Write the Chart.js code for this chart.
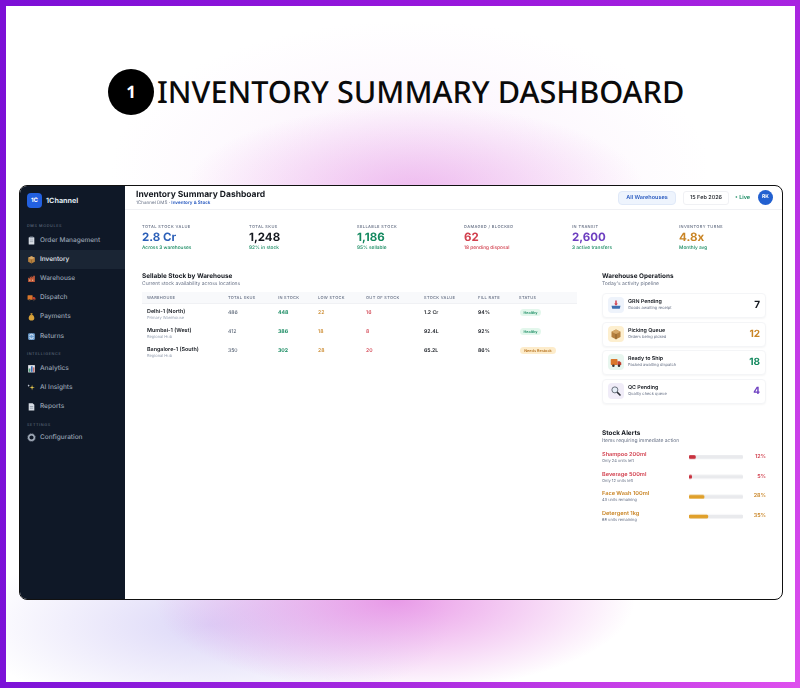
<!DOCTYPE html>
<html>
<head>
<meta charset="utf-8">
<title>Inventory Summary Dashboard</title>
<script src="https://cdn.jsdelivr.net/npm/chart.js@4"></script>
<style>
* { box-sizing: border-box; margin: 0; padding: 0; }
html, body { width: 800px; height: 688px; overflow: hidden; background: #fff; }
body { font-family: Inter, "Noto Sans", sans-serif; color: #14181f; position: relative; text-rendering: geometricPrecision; }

#fondo {
    position: absolute; left: 0; top: 0; width: 800px; height: 688px;
    background:
        radial-gradient(ellipse 230px 85px at 415px 190px, rgba(226,135,226,.5), rgba(226,135,226,0) 100%),
        radial-gradient(ellipse 300px 150px at 410px 170px, rgba(240,205,245,.3), rgba(240,205,245,0) 100%),
        radial-gradient(ellipse 240px 92px at 395px 600px, rgba(228,130,226,.8), rgba(228,130,226,0) 100%),
        radial-gradient(ellipse 240px 90px at 210px 625px, rgba(185,175,240,.5), rgba(185,175,240,0) 100%),
        #fff;
}
.marco { position: absolute; }
#m1 { left: 0; top: 0; width: 800px; height: 6px; background: linear-gradient(90deg, #7c0fd6, #9a18dc 60%, #a824e0); }
#m2 { left: 0; top: 682px; width: 800px; height: 6px; background: linear-gradient(90deg, #7c12d8, #a82ae0 50%, #de50ee); }
#m3 { left: 0; top: 0; width: 6px; height: 688px; background: linear-gradient(180deg, #7c0fd6, #7c12d8); }
#m4 { left: 795px; top: 0; width: 5px; height: 688px; background: linear-gradient(180deg, #a824e0, #de50ee); }

.titulo { position: absolute; left: 157px; top: 68px; font: 500 30.6px/46px "Noto Sans", sans-serif; color: #0a0a0a; white-space: nowrap; }
.numero { position: absolute; left: 108px; top: 69px; width: 46px; height: 46px; border-radius: 50%; background: #000; color: #fff; font: 700 17px/46px "Noto Sans", sans-serif; text-align: center; }

#tarjeta { position: absolute; left: 19px; top: 185px; width: 764px; height: 415px; background: #fff; border: 1px solid #111; border-radius: 8px; overflow: hidden; }
#contenido { position: absolute; left: 0; top: 0; width: 762px; height: 413px; filter: blur(.3px); }
#lateral { position: absolute; left: 0; top: 0; width: 105px; height: 100%; background: #0f1827; }
.logo { position: absolute; left: 7px; top: 7px; width: 15px; height: 15px; border-radius: 4px; background: #2260e0; color: #fff; font: 700 6px/15px Inter; text-align: center; }
.marca { position: absolute; left: 26px; top: 9px; font: 700 7.2px/11px Inter; color: #dfe5ee; }
.seccion { position: absolute; left: 7px; font: 500 3.8px/6px Inter; letter-spacing: .6px; color: #5e6a7c; }
.item { position: absolute; left: 0; width: 105px; height: 19px; font: 500 6.5px/19px Inter; color: #98a3b3; padding-left: 20px; white-space: nowrap; }
.item.activo { background: #1a2534; color: #e6eaf1; }
.item svg { position: absolute; left: 7px; top: 5px; width: 9px; height: 9px; }
.abs { position: absolute; white-space: nowrap; }
.icono svg { display: block; width: 100%; height: 100%; }
#grafico { position: absolute; left: 669px; top: 261px; width: 54px; height: 78.5px; }
</style>
</head>
<body>
<div id="fondo"></div>
<div class="marco" id="m1"></div><div class="marco" id="m2"></div><div class="marco" id="m3"></div><div class="marco" id="m4"></div>
<div class="numero">1</div>
<div class="titulo">INVENTORY SUMMARY DASHBOARD</div>
<div id="tarjeta">
    <div id="contenido">
        <div id="lateral"></div>
        <div id="grafico"><canvas id="alertas"></canvas></div>
    </div>
</div>

<script>
// Datos
const modulos = ['Order Management', 'Inventory', 'Warehouse', 'Dispatch', 'Payments', 'Returns'];
const inteligencia = ['Analytics', 'AI Insights', 'Reports'];
const ajustes = ['Configuration'];

const kpiTitulos = ['TOTAL STOCK VALUE', 'TOTAL SKUS', 'SELLABLE STOCK', 'DAMAGED / BLOCKED', 'IN TRANSIT', 'INVENTORY TURNS'];
const kpiValores = ['2.8 Cr', '1,248', '1,186', '62', '2,600', '4.8x'];
const kpiNotas = ['Across 3 warehouses', '92% in stock', '95% sellable', '18 pending disposal', '3 active transfers', 'Monthly avg'];
const kpiColores = ['#2b5fb8', '#14181f', '#14895f', '#d2414f', '#6d3fc0', '#c98424'];
const kpiColoresNota = ['#14895f', '#14895f', '#14895f', '#d2414f', '#14895f', '#14895f'];

const columnas = ['WAREHOUSE', 'TOTAL SKUS', 'IN STOCK', 'LOW STOCK', 'OUT OF STOCK', 'STOCK VALUE', 'FILL RATE', 'STATUS'];
const almacenes = ['Delhi-1 (North)', 'Mumbai-1 (West)', 'Bangalore-1 (South)'];
const tiposAlmacen = ['Primary Warehouse', 'Regional Hub', 'Regional Hub'];
const totalSkus = [486, 412, 350];
const enStock = [448, 386, 302];
const stockBajo = [22, 18, 28];
const sinStock = [16, 8, 20];
const valorStock = ['1.2 Cr', '92.4L', '65.2L'];
const tasaLlenado = ['94%', '92%', '86%'];
const estados = ['Healthy', 'Healthy', 'Needs Restock'];

const operaciones = ['GRN Pending', 'Picking Queue', 'Ready to Ship', 'QC Pending'];
const operacionesNotas = ['Goods awaiting receipt', 'Orders being picked', 'Packed awaiting dispatch', 'Quality check queue'];
const operacionesValores = [7, 12, 18, 4];
const operacionesColores = ['#14181f', '#c98424', '#14895f', '#6d3fc0'];
const operacionesFondos = ['#eef3fb', '#fdefcf', '#e8f6ef', '#f0ecf8'];

const productos = ['Shampoo 200ml', 'Beverage 500ml', 'Face Wash 100ml', 'Detergent 1kg'];
const productosNotas = ['Only 24 units left', 'Only 12 units left', '43 units remaining', '68 units remaining'];
const porcentajes = [12, 5, 28, 35];
const pista = [100, 100, 100, 100];
const coloresAlerta = ['#c8323f', '#c8323f', '#e0a02a', '#e0a02a'];
const coloresTexto = ['#d2414f', '#d2414f', '#c98424', '#c98424'];

// Iconos pequeños en lugar de emoji
const iconos = {
    clip: '<rect x="3" y="2" width="10" height="13" rx="1" fill="#d8dde5"/><rect x="5" y="1" width="6" height="3" fill="#8f99a8"/><path d="M5 7h6M5 10h6" stroke="#7d8796"/>',
    caja: '<path d="M2 5l6-3 6 3v7l-6 3-6-3z" fill="#b5803f"/><path d="M2 5l6 3 6-3-6-3z" fill="#d6a868"/><path d="M8 8v7" stroke="#7e5526"/>',
    fabrica: '<path d="M2 14V6l3 2V4l3 3V3l3 3V3h3v11z" fill="#c0583a"/><rect x="4" y="10" width="2" height="2" fill="#f0cf9a"/><rect x="9" y="10" width="2" height="2" fill="#f0cf9a"/>',
    camion: '<rect x="1" y="4" width="9" height="8" rx="1" fill="#d9772b"/><path d="M10 7h3l2 2v3h-5z" fill="#c2402e"/><circle cx="4.5" cy="13" r="1.7" fill="#333"/><circle cx="12" cy="13" r="1.7" fill="#333"/>',
    dinero: '<path d="M6 2h4l-1 3c3 1 4 4 4 6 0 3-2 4-5 4s-5-1-5-4c0-2 1-5 4-6z" fill="#d8a23a"/><path d="M6.500 5h3" stroke="#8f6818"/>',
    flechas: '<rect x="2" y="2" width="12" height="12" rx="2" fill="#6f9fd0"/><path d="M5 7a3 3 0 0 1 6 0M11 9a3 3 0 0 1-6 0" stroke="#fff" fill="none" stroke-width="1.300"/>',
    barras: '<rect x="2" y="2" width="12" height="13" fill="#e6e9ee"/><rect x="3" y="8" width="3" height="6" fill="#4f9a78"/><rect x="7" y="4" width="3" height="10" fill="#3f6fb8"/><rect x="11" y="6" width="2" height="8" fill="#c0504a"/>',
    chispa: '<path d="M9 3l1 4 4 1-4 1-1 4-1-4-4-1 4-1z" fill="#e8c84e"/><path d="M3 2l.6 1.800L5 4.500l-1.400.7L3 7l-.6-1.800L1 4.500l1.400-.7z" fill="#dfe5ee"/>',
    hoja: '<path d="M3 2h7l3 3v10H3z" fill="#d8dde5"/><path d="M5 8h6M5 11h6" stroke="#6f7b8c"/>',
    engranaje: '<circle cx="8" cy="8" r="5" fill="none" stroke="#a8b2bf" stroke-width="2.500"/><circle cx="8" cy="8" r="6.800" fill="none" stroke="#a8b2bf" stroke-width="1.200" stroke-dasharray="2 1.500"/>',
    bandeja: '<path d="M2 9h12l-1 4H3z" fill="#3d6fb0"/><path d="M8 2v5" stroke="#d2414f" stroke-width="2"/><path d="M5.500 6L8 9l2.500-3z" fill="#d2414f"/>',
    lupa: '<circle cx="6.500" cy="6.500" r="4" fill="#e6eef8" stroke="#666d78" stroke-width="1.300"/><path d="M9.500 9.500l4.500 4.500" stroke="#2a2e35" stroke-width="2"/>'
};
const iconosModulos = ['clip', 'caja', 'fabrica', 'camion', 'dinero', 'flechas'];
const iconosInteligencia = ['barras', 'chispa', 'hoja'];
const iconosAjustes = ['engranaje'];
const operacionesIconos = ['bandeja', 'caja', 'camion', 'lupa'];

function svg(nombre) {
    return '<svg viewBox="0 0 16 16" xmlns="http://www.w3.org/2000/svg">' + iconos[nombre] + '</svg>';
}

const contenido = document.getElementById('contenido');

function texto(x, y, valor, estilo) {
    // x, y en coordenadas de la pagina
    let el = document.createElement('div');
    el.className = 'abs';
    el.textContent = valor;
    el.style.cssText += 'left:' + (x - 20) + 'px;top:' + (y - 186) + 'px;' + estilo;
    contenido.appendChild(el);
    return el;
}

function caja(x, y, w, h, estilo) {
    let el = document.createElement('div');
    el.style.cssText = 'position:absolute;left:' + (x - 20) + 'px;top:' + (y - 186) + 'px;width:' + w + 'px;height:' + h + 'px;' + estilo;
    contenido.appendChild(el);
    return el;
}

// Barra lateral
const lateral = document.getElementById('lateral');
lateral.innerHTML = '<div class="logo">1C</div><div class="marca">1Channel</div>';

function seccionLateral(nombre, y) {
    let el = document.createElement('div');
    el.className = 'seccion';
    el.style.top = y + 'px';
    el.textContent = nombre;
    lateral.appendChild(el);
}

function itemsLateral(lista, nombresIcono, y) {
    lista.forEach((nombre, i) => {
        let el = document.createElement('div');
        el.className = 'item' + (nombre === 'Inventory' ? ' activo' : '');
        el.style.top = (y + i * 19.1) + 'px';
        el.innerHTML = svg(nombresIcono[i]) + nombre;
        lateral.appendChild(el);
    });
}

seccionLateral('DMS MODULES', 37);
itemsLateral(modulos, iconosModulos, 45);
seccionLateral('INTELLIGENCE', 165);
itemsLateral(inteligencia, iconosInteligencia, 173);
seccionLateral('SETTINGS', 236);
itemsLateral(ajustes, iconosAjustes, 242);

// Cabecera
caja(125, 186, 657, 24, 'border-bottom:1px solid #f0f1f4');
texto(136, 189, 'Inventory Summary Dashboard', 'font:700 8.5px/12px Inter;color:#14181f');
texto(136, 200, '', 'font:400 4.6px/7px Inter;color:#667085').innerHTML = '1Channel DMS · <span style="color:#2a5bc0;font-weight:600">Inventory &amp; Stock</span>';
caja(618, 191, 58, 14, 'background:#eef4fd;border:1px solid #e0e9f8;border-radius:4px;font:600 5.5px/12px Inter;color:#2a5bc0;text-align:center').textContent = 'All Warehouses';
caja(683, 191, 46, 14, 'background:#fff;border:1px solid #f0f1f4;border-radius:3px;font:500 5.5px/12px Inter;color:#14181f;text-align:center').textContent = '15 Feb 2026';
texto(735, 193, '• Live', 'font:600 5.5px/10px Inter;color:#14895f');
caja(758, 190, 15, 15, 'background:#2260d0;border-radius:50%;font:700 5px/15px Inter;color:#fff;text-align:center').textContent = 'RK';

// Indicadores
const kpiX = [142, 249, 357, 464, 572, 679];
kpiTitulos.forEach((t, i) => {
    texto(kpiX[i], 224, t, 'font:500 4px/6px Inter;letter-spacing:.4px;color:#667085');
    texto(kpiX[i], 229, kpiValores[i], 'font:700 11.5px/16px Inter;color:' + kpiColores[i]);
    texto(kpiX[i], 245, kpiNotas[i], 'font:500 4.8px/7px Inter;color:' + kpiColoresNota[i]);
});

// Tabla de almacenes
texto(142, 271, 'Sellable Stock by Warehouse', 'font:700 6.4px/10px Inter;color:#14181f');
texto(142, 280, 'Current stock availability across locations', 'font:400 5px/8px Inter;color:#667085');
caja(142, 292, 435, 12, 'background:#f8f9fb;border-bottom:1px solid #f0f1f4');
const colX = [147, 228, 278, 318, 366, 424, 478, 519];
columnas.forEach((c, i) => {
    texto(colX[i], 295, c, 'font:500 4px/6px Inter;letter-spacing:.3px;color:#667085');
});
const filaY = [312, 331, 350];
almacenes.forEach((a, i) => {
    let y = filaY[i];
    texto(colX[0], y - 4.5, a, 'font:600 5.4px/8px Inter;color:#14181f');
    texto(colX[0], y + 2.5, tiposAlmacen[i], 'font:400 4px/6px Inter;color:#98a2b3');
    texto(colX[1], y - 3, totalSkus[i], 'font:400 5.2px/8px Inter;color:#475467');
    texto(colX[2], y - 3, enStock[i], 'font:700 5.2px/8px Inter;color:#14895f');
    texto(colX[3], y - 3, stockBajo[i], 'font:500 5.2px/8px Inter;color:#c98424');
    texto(colX[4], y - 3, sinStock[i], 'font:500 5.2px/8px Inter;color:#d2414f');
    texto(colX[5], y - 3, valorStock[i], 'font:600 5.2px/8px Inter;color:#14181f');
    texto(colX[6], y - 3, tasaLlenado[i], 'font:600 5.2px/8px Inter;color:#14181f');
    let sano = estados[i] === 'Healthy';
    caja(colX[7] + 1, y - 3, sano ? 21 : 36, 7, 'border-radius:4px;text-align:center;font:600 3.8px/7px Inter;' +
        (sano ? 'background:#e3f7ec;color:#14895f' : 'background:#fdeccb;color:#b5701c')).textContent = estados[i];
});

// Operaciones del almacen
texto(602, 271, 'Warehouse Operations', 'font:700 6.4px/10px Inter;color:#14181f');
texto(602, 280, "Today's activity pipeline", 'font:400 5px/8px Inter;color:#667085');
operaciones.forEach((o, i) => {
    let y = 293 + i * 28.6;
    caja(602, y, 164, 25, 'background:#fff;border:1px solid #f4f5f7;border-radius:4px;box-shadow:0 1px 2px rgba(20,24,31,.04)');
    caja(608, y + 4, 16, 16, 'border-radius:4px;background:' + operacionesFondos[i]);
    let icono = caja(610, y + 6, 12, 12, '');
    icono.className = 'icono';
    icono.innerHTML = svg(operacionesIconos[i]);
    texto(628, y + 5, o, 'font:600 5.3px/8px Inter;color:#14181f');
    texto(628, y + 12, operacionesNotas[i], 'font:400 4px/6px Inter;color:#667085');
    texto(700, y + 4, operacionesValores[i], 'font:700 10px/16px Inter;width:60px;text-align:right;color:' + operacionesColores[i]);
});

// Alertas de stock
texto(602, 428, 'Stock Alerts', 'font:700 6.4px/10px Inter;color:#14181f');
texto(602, 437, 'Items requiring immediate action', 'font:400 5px/8px Inter;color:#667085');
const alertaY = [451, 471, 490, 510];
productos.forEach((p, i) => {
    texto(602, alertaY[i], p, 'font:600 5.6px/8px Inter;color:' + coloresTexto[i]);
    texto(602, alertaY[i] + 7, productosNotas[i], 'font:400 4px/6px Inter;color:#667085');
    texto(740, alertaY[i] + 2, porcentajes[i] + '%', 'font:600 5.4px/8px Inter;width:26px;text-align:right;color:' + coloresTexto[i]);
});

// Grafico de barras de las alertas
new Chart(document.getElementById('alertas').getContext('2d'), {
    type: 'bar',
    data: {
        labels: productos,
        datasets: [
            {
                label: 'Stock %',
                data: porcentajes,
                backgroundColor: coloresAlerta,
                borderRadius: 1.5,
                borderSkipped: false,
                barThickness: 3,
                grouped: false,
                order: 1
            },
            {
                label: 'Pista',
                data: pista,
                backgroundColor: '#e9eaed',
                borderRadius: 1.5,
                borderSkipped: false,
                barThickness: 3,
                grouped: false,
                order: 2
            }
        ]
    },
    options: {
        indexAxis: 'y',
        responsive: true,
        maintainAspectRatio: false,
        animation: false,
        layout: { padding: 0 },
        plugins: {
            legend: { display: false },
            tooltip: { enabled: false }
        },
        scales: {
            x: { display: false, min: 0, max: 100 },
            y: { display: false }
        }
    }
});
</script>
</body>
</html>
